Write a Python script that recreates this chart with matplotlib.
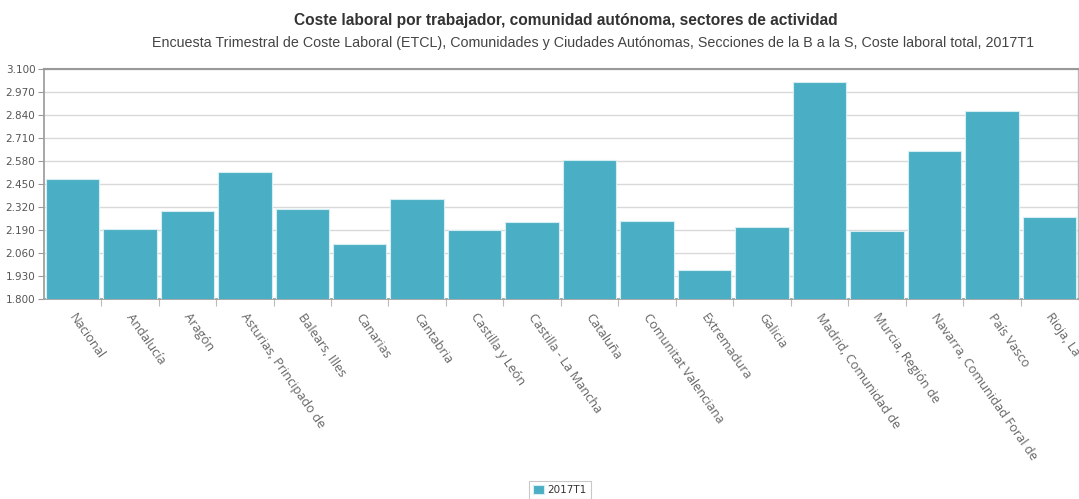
import matplotlib.pyplot as plt
import numpy as np
from matplotlib.ticker import FuncFormatter

# Coste laboral total por trabajador, 2017T1 (euros)
regiones = ["Nacional", "Andalucía", "Aragón", "Asturias, Principado de",
            "Balears, Illes", "Canarias", "Cantabria", "Castilla y León",
            "Castilla - La Mancha", "Cataluña", "Comunitat Valenciana",
            "Extremadura", "Galicia", "Madrid, Comunidad de", "Murcia, Región de",
            "Navarra, Comunidad Foral de", "País Vasco", "Rioja, La"]
coste = [2479, 2197, 2297, 2519, 2310, 2114, 2364, 2189, 2235,
         2588, 2244, 1965, 2210, 3025, 2184, 2637, 2865, 2263]
yticks = [1800, 1930, 2060, 2190, 2320, 2450, 2580, 2710, 2840, 2970, 3100]
serie = "2017T1"

color = "#4aafc4"
fig = plt.figure(figsize=(10.79, 4.99), dpi=100)
ax = fig.add_axes([0.0405, 0.4002, 1078/1079 - 0.0405, 0.4615])

x = np.arange(len(regiones))
bars = ax.bar(x, coste, width=0.93, color=color, edgecolor="#d5eef3",
              linewidth=0.8, zorder=3, label=serie)

ax.set_xlim(-0.5, len(regiones) - 0.5)
ax.set_ylim(1800, 3100)
ax.set_yticks(yticks)
ax.yaxis.set_major_formatter(FuncFormatter(lambda v, p: f"{int(v):,}".replace(",", ".")))
ax.grid(axis="y", color="#d9d9d9", linewidth=1, zorder=0)
ax.tick_params(axis="y", length=4, width=0.8, color="#999999", labelsize=7.5,
               labelcolor="#555555", pad=2)

# ticks between categories, labels at centres
ax.set_xticks(x[:-1] + 0.5)
ax.set_xticklabels([])
ax.tick_params(axis="x", length=5, width=0.8, color="#bbbbbb")
for i, name in enumerate(regiones):
    ax.text(i + 0.07, -0.05, name, rotation=-55, rotation_mode="anchor",
            ha="left", va="top", fontsize=9.2, color="#666666",
            family=["Open Sans", "DejaVu Sans"], clip_on=False,
            transform=ax.get_xaxis_transform())

for s in ["left", "bottom"]:
    ax.spines[s].set_color("#a0a0a0")
    ax.spines[s].set_linewidth(1.3)
ax.spines["top"].set_color("#999999")
ax.spines["top"].set_linewidth(1.5)
ax.spines["right"].set_color("#bbbbbb")
ax.spines["right"].set_linewidth(1)

fig.text(0.5245, 0.958, "Coste laboral por trabajador, comunidad autónoma, sectores de actividad",
         ha="center", va="center", fontsize=11.2, fontweight="bold", color="#333333",
         family=["Liberation Sans", "DejaVu Sans"])
fig.text(0.550, 0.913, "Encuesta Trimestral de Coste Laboral (ETCL), Comunidades y Ciudades Autónomas, "
         "Secciones de la B a la S, Coste laboral total, 2017T1",
         ha="center", va="center", fontsize=10.3, color="#444444",
         family=["Liberation Sans", "DejaVu Sans"])

leg = fig.legend(handles=[bars], labels=[serie], loc="center", bbox_to_anchor=(0.519, 0.018),
                 fontsize=7.5, frameon=True, fancybox=False, handlelength=1.0,
                 handleheight=1.0, handletextpad=0.4, borderpad=0.35, labelcolor="#333333")
leg.get_frame().set_edgecolor("#bbbbbb")
leg.get_frame().set_linewidth(0.8)

fig.savefig("out.png", dpi=100)
